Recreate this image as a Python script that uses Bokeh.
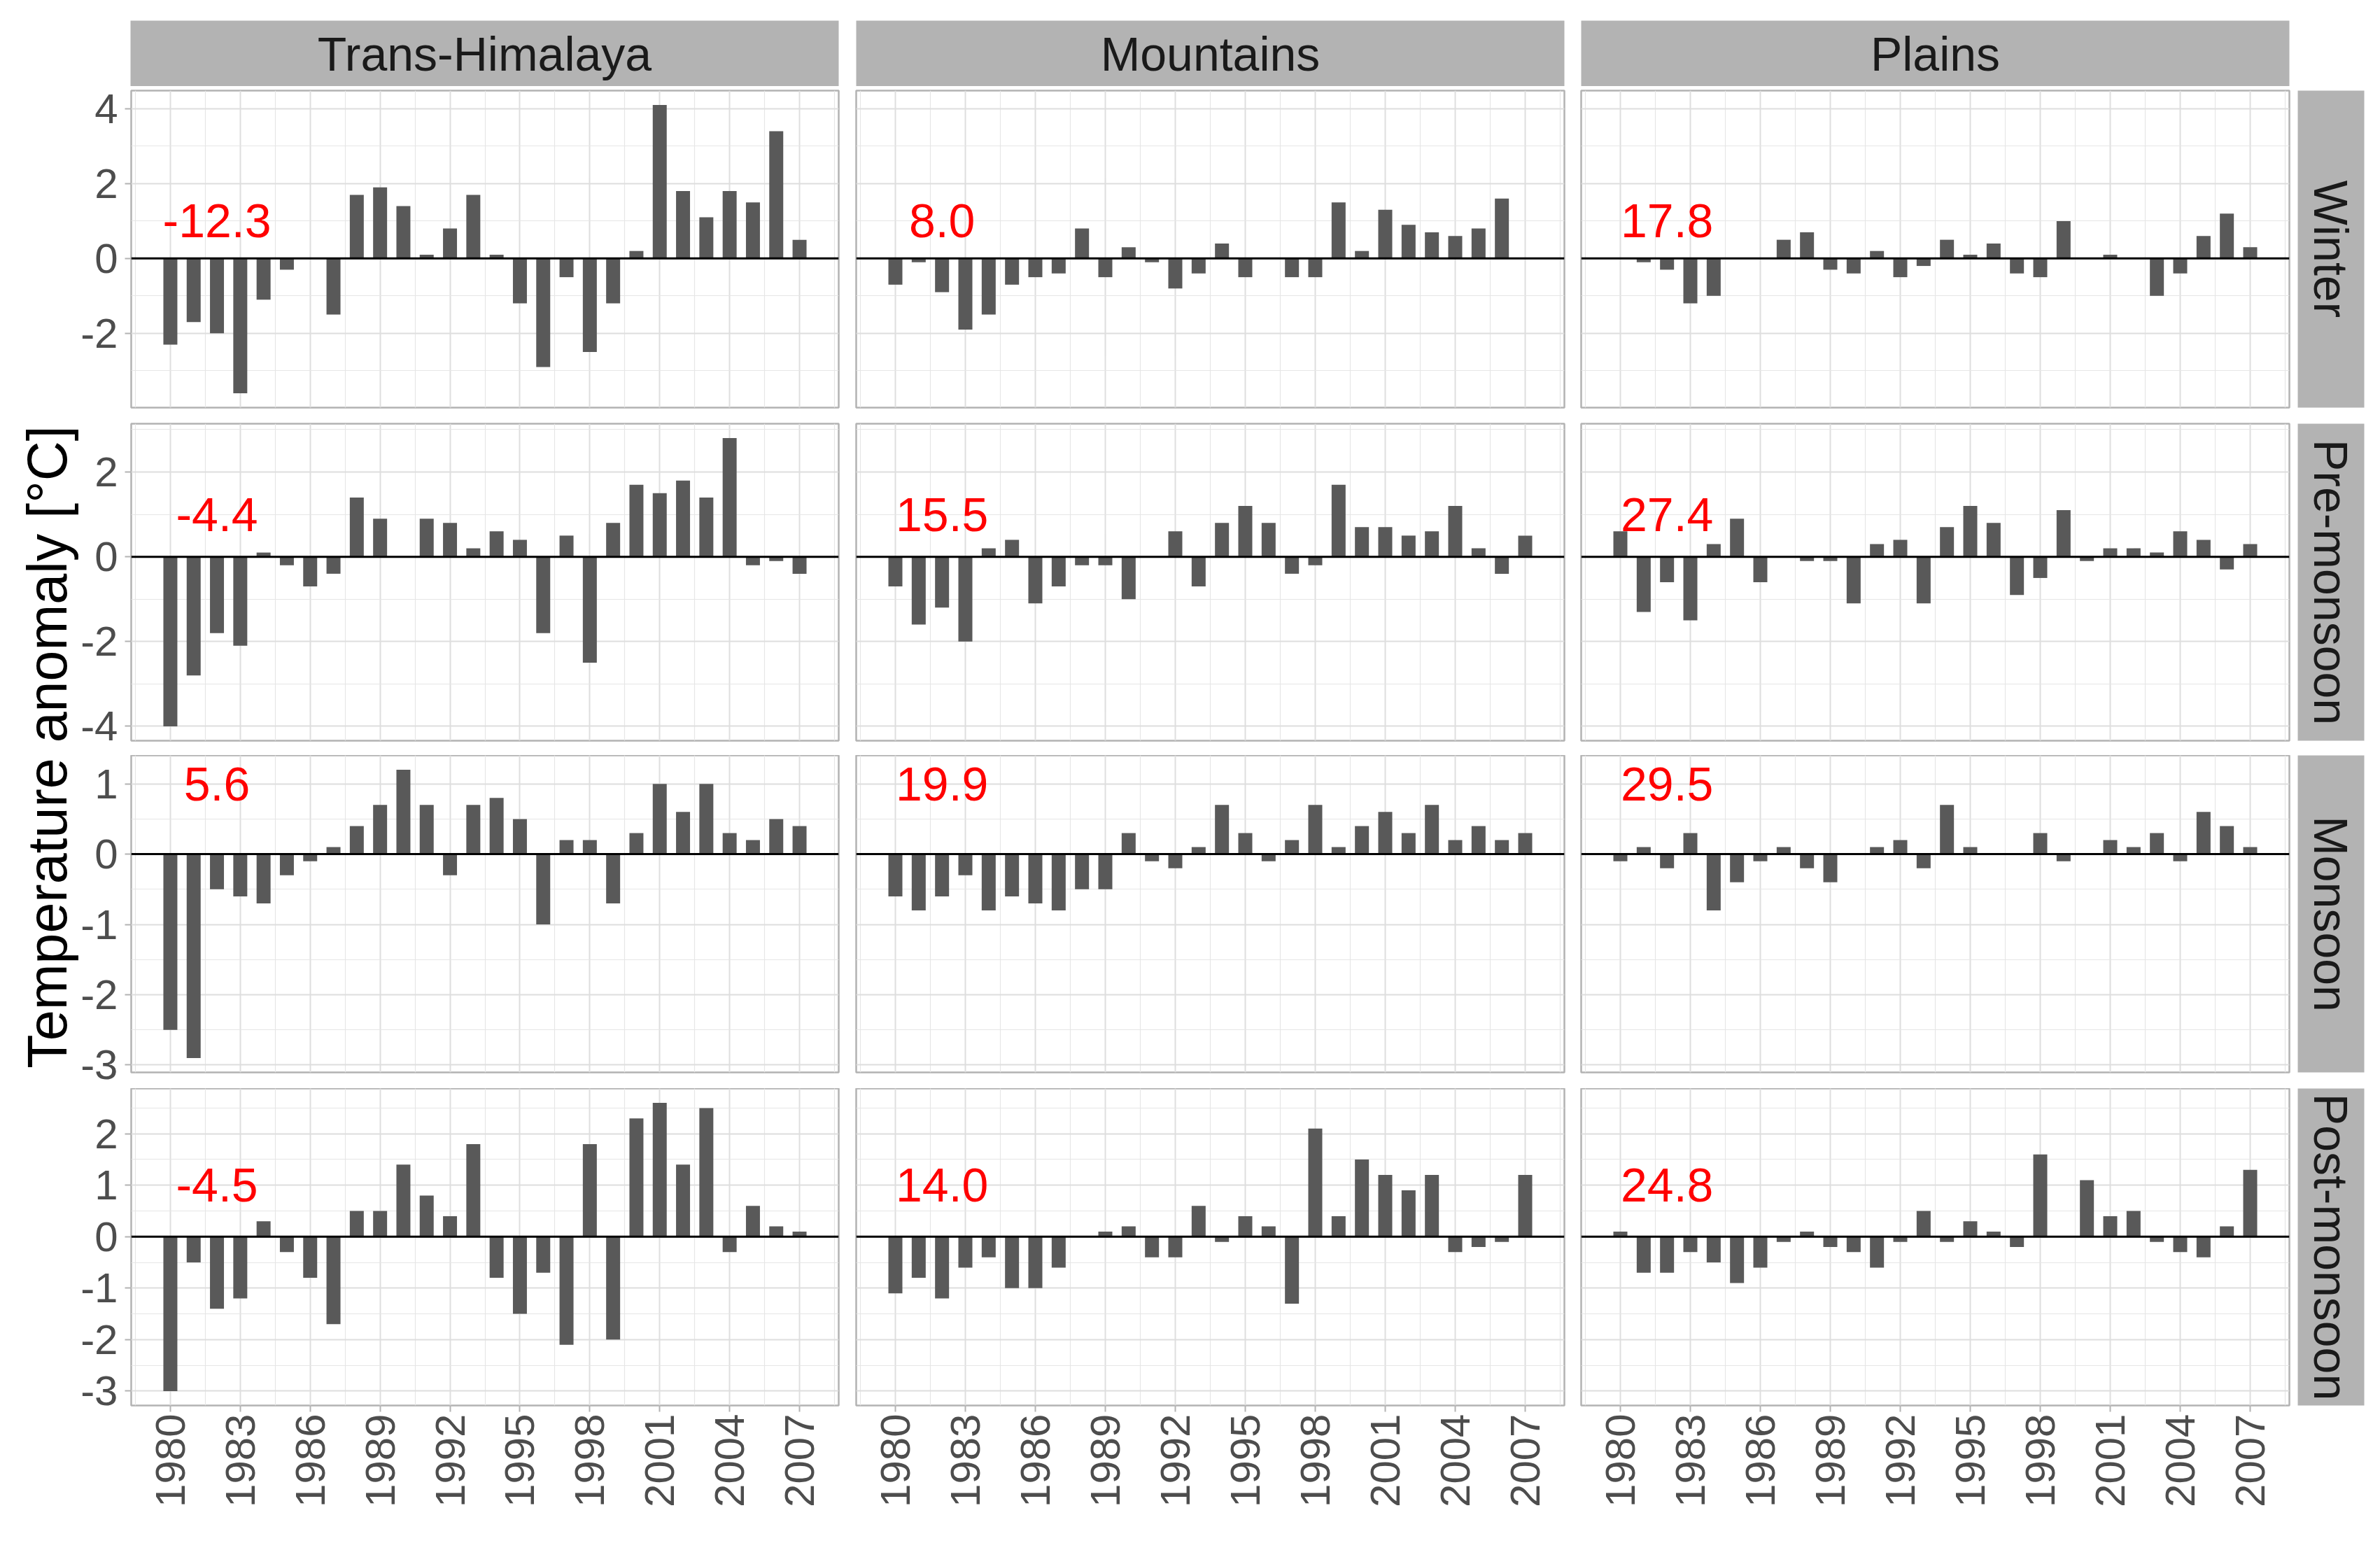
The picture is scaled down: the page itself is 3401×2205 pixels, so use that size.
import math
from bokeh.plotting import figure
from bokeh.layouts import row, column
from bokeh.models import Range1d, FixedTicker, LinearAxis, Grid, Span, Label, PrintfTickFormatter
from bokeh.embed import file_html
from bokeh.resources import INLINE

# ---------------- data ----------------
regions = ["Trans-Himalaya", "Mountains", "Plains"]
seasons = ["Winter", "Pre-monsoon", "Monsoon", "Post-monsoon"]
years = [1980, 1981, 1982, 1983, 1984, 1985, 1986, 1987, 1988, 1989,
         1990, 1991, 1992, 1993, 1994, 1995, 1996, 1997, 1998, 1999,
         2000, 2001, 2002, 2003, 2004, 2005, 2006, 2007]

th_winter = [-2.3, -1.7, -2.0, -3.6, -1.1, -0.3, 0.0, -1.5, 1.7, 1.9, 1.4, 0.1, 0.8, 1.7,
             0.1, -1.2, -2.9, -0.5, -2.5, -1.2, 0.2, 4.1, 1.8, 1.1, 1.8, 1.5, 3.4, 0.5]
mo_winter = [-0.7, -0.1, -0.9, -1.9, -1.5, -0.7, -0.5, -0.4, 0.8, -0.5, 0.3, -0.1, -0.8, -0.4,
             0.4, -0.5, 0.0, -0.5, -0.5, 1.5, 0.2, 1.3, 0.9, 0.7, 0.6, 0.8, 1.6, 0.0]
pl_winter = [0.0, -0.1, -0.3, -1.2, -1.0, 0.0, 0.0, 0.5, 0.7, -0.3, -0.4, 0.2, -0.5, -0.2,
             0.5, 0.1, 0.4, -0.4, -0.5, 1.0, 0.0, 0.1, 0.0, -1.0, -0.4, 0.6, 1.2, 0.3]

th_pre = [-4.0, -2.8, -1.8, -2.1, 0.1, -0.2, -0.7, -0.4, 1.4, 0.9, 0.0, 0.9, 0.8, 0.2,
          0.6, 0.4, -1.8, 0.5, -2.5, 0.8, 1.7, 1.5, 1.8, 1.4, 2.8, -0.2, -0.1, -0.4]
mo_pre = [-0.7, -1.6, -1.2, -2.0, 0.2, 0.4, -1.1, -0.7, -0.2, -0.2, -1.0, 0.0, 0.6, -0.7,
          0.8, 1.2, 0.8, -0.4, -0.2, 1.7, 0.7, 0.7, 0.5, 0.6, 1.2, 0.2, -0.4, 0.5]
pl_pre = [0.6, -1.3, -0.6, -1.5, 0.3, 0.9, -0.6, 0.0, -0.1, -0.1, -1.1, 0.3, 0.4, -1.1,
          0.7, 1.2, 0.8, -0.9, -0.5, 1.1, -0.1, 0.2, 0.2, 0.1, 0.6, 0.4, -0.3, 0.3]

th_mon = [-2.5, -2.9, -0.5, -0.6, -0.7, -0.3, -0.1, 0.1, 0.4, 0.7, 1.2, 0.7, -0.3, 0.7,
          0.8, 0.5, -1.0, 0.2, 0.2, -0.7, 0.3, 1.0, 0.6, 1.0, 0.3, 0.2, 0.5, 0.4]
mo_mon = [-0.6, -0.8, -0.6, -0.3, -0.8, -0.6, -0.7, -0.8, -0.5, -0.5, 0.3, -0.1, -0.2, 0.1,
          0.7, 0.3, -0.1, 0.2, 0.7, 0.1, 0.4, 0.6, 0.3, 0.7, 0.2, 0.4, 0.2, 0.3]
pl_mon = [-0.1, 0.1, -0.2, 0.3, -0.8, -0.4, -0.1, 0.1, -0.2, -0.4, 0.0, 0.1, 0.2, -0.2,
          0.7, 0.1, 0.0, 0.0, 0.3, -0.1, 0.0, 0.2, 0.1, 0.3, -0.1, 0.6, 0.4, 0.1]

th_post = [-3.0, -0.5, -1.4, -1.2, 0.3, -0.3, -0.8, -1.7, 0.5, 0.5, 1.4, 0.8, 0.4, 1.8,
           -0.8, -1.5, -0.7, -2.1, 1.8, -2.0, 2.3, 2.6, 1.4, 2.5, -0.3, 0.6, 0.2, 0.1]
mo_post = [-1.1, -0.8, -1.2, -0.6, -0.4, -1.0, -1.0, -0.6, 0.0, 0.1, 0.2, -0.4, -0.4, 0.6,
           -0.1, 0.4, 0.2, -1.3, 2.1, 0.4, 1.5, 1.2, 0.9, 1.2, -0.3, -0.2, -0.1, 1.2]
pl_post = [0.1, -0.7, -0.7, -0.3, -0.5, -0.9, -0.6, -0.1, 0.1, -0.2, -0.3, -0.6, -0.1, 0.5,
           -0.1, 0.3, 0.1, -0.2, 1.6, 0.0, 1.1, 0.4, 0.5, -0.1, -0.3, -0.4, 0.2, 1.3]

# seasonal mean temperatures (red labels), rows = seasons, cols = regions
mean_winter = ["-12.3", "8.0", "17.8"]
mean_pre = ["-4.4", "15.5", "27.4"]
mean_mon = ["5.6", "19.9", "29.5"]
mean_post = ["-4.5", "14.0", "24.8"]

x_ticks = [1980, 1983, 1986, 1989, 1992, 1995, 1998, 2001, 2004, 2007]
x_minor = [1978.5, 1981.5, 1984.5, 1987.5, 1990.5, 1993.5, 1996.5, 1999.5, 2002.5, 2005.5, 2008.5]
y_ticks_rows = [[-2, 0, 2, 4], [-4, -2, 0, 2], [-3, -2, -1, 0, 1], [-3, -2, -1, 0, 1, 2]]
y_minor_rows = [[-3, -1, 1, 3], [-3, -1, 1, 3], [-2.5, -1.5, -0.5, 0.5], [-2.5, -1.5, -0.5, 0.5, 1.5, 2.5]]

series = [[th_winter, mo_winter, pl_winter],
          [th_pre, mo_pre, pl_pre],
          [th_mon, mo_mon, pl_mon],
          [th_post, mo_post, pl_post]]
means = [mean_winter, mean_pre, mean_mon, mean_post]

# ---------------- styling / layout ----------------
FONT = "Liberation Sans"
BAR_W = 0.6
FRAME_W = 1012
FRAME_H = 453
LAB_W = 112
ML = [74, 13, 12]
MR = [12, 12, 5]
MT = [6, 2, 0, 0]
MB = [21, 21, 23, 175]
STRIP_TOP = 29
STRIP_H = 94
STRIP_COL = "#b3b3b3"
GRID_COL = "#dedede"
TICK_FS = "60px"

x0 = min(years) - BAR_W / 2
x1 = max(years) + BAR_W / 2
xpad = 0.05 * (x1 - x0)
x_start, x_end = x0 - xpad, x1 + xpad


def row_range(r):
    vals = [v for s in series[r] for v in s]
    lo, hi = min(vals), max(vals)
    pad = 0.05 * (hi - lo)
    return lo - pad, hi + pad


def base_fig(w, h, **kw):
    p = figure(width=w, height=h, x_axis_type=None, y_axis_type=None,
               toolbar_location=None, output_backend="svg", **kw)
    p.border_fill_color = "white"
    return p


def style_axis(ax):
    ax.axis_line_color = None
    ax.major_tick_line_color = STRIP_COL
    ax.major_tick_line_width = 2
    ax.major_tick_out = 9
    ax.major_tick_in = 0
    ax.minor_tick_line_color = None
    ax.major_label_text_font = FONT
    ax.major_label_text_font_size = TICK_FS
    ax.major_label_text_color = "#4d4d4d"


def panel(r, c):
    y0, y1 = row_range(r)
    w = ML[c] + FRAME_W + MR[c]
    h = MT[r] + FRAME_H + MB[r]
    p = base_fig(w, h, x_range=Range1d(x_start, x_end), y_range=Range1d(y0, y1),
                 min_border_left=ML[c], min_border_right=MR[c],
                 min_border_top=MT[r], min_border_bottom=MB[r])
    p.background_fill_color = "white"
    p.outline_line_color = STRIP_COL
    p.outline_line_width = 2.5

    xt = FixedTicker(ticks=x_ticks, minor_ticks=x_minor)
    yt = FixedTicker(ticks=y_ticks_rows[r], minor_ticks=y_minor_rows[r])
    for dim, tk in ((0, xt), (1, yt)):
        p.add_layout(Grid(dimension=dim, ticker=tk, grid_line_color=GRID_COL, grid_line_width=2,
                          minor_grid_line_color="#e6e6e6", minor_grid_line_width=1.2))

    if c == 0:
        ax = LinearAxis(ticker=yt, formatter=PrintfTickFormatter(format="%d"))
        style_axis(ax)
        ax.major_label_standoff = 10
        p.add_layout(ax, "left")
    if r == 3:
        ax = LinearAxis(ticker=xt, formatter=PrintfTickFormatter(format="%d"))
        style_axis(ax)
        ax.major_label_orientation = math.pi / 2
        ax.major_label_standoff = 3
        p.add_layout(ax, "below")

    p.vbar(x=years, top=series[r][c], bottom=0, width=BAR_W,
           fill_color="#595959", line_color=None)
    p.add_layout(Span(location=0, dimension="width", line_color="black", line_width=3))
    p.add_layout(Label(x=1982, y=1, text=means[r][c], text_color="red",
                       text_font=FONT, text_font_size="68px",
                       text_align="center", text_baseline="middle"))
    return p


def top_strip(c):
    w = ML[c] + FRAME_W + MR[c]
    p = base_fig(w, STRIP_TOP + STRIP_H, x_range=Range1d(0, 1), y_range=Range1d(0, 1),
                 min_border_left=ML[c], min_border_right=MR[c],
                 min_border_top=STRIP_TOP, min_border_bottom=0)
    p.background_fill_color = STRIP_COL
    p.outline_line_color = None
    p.add_layout(Label(x=0.5, y=0.5, text=regions[c], text_color="#1a1a1a",
                       text_font=FONT, text_font_size="68px",
                       text_align="center", text_baseline="middle"))
    return p


def right_strip(r):
    h = MT[r] + FRAME_H + MB[r]
    p = base_fig(104, h, x_range=Range1d(0, 1), y_range=Range1d(0, 1),
                 min_border_left=7, min_border_right=2,
                 min_border_top=MT[r], min_border_bottom=MB[r])
    p.background_fill_color = STRIP_COL
    p.outline_line_color = None
    p.add_layout(Label(x=0.5, y=0.5, text=seasons[r], text_color="#1a1a1a",
                       text_font=FONT, text_font_size="68px", angle=-math.pi / 2,
                       text_align="center", text_baseline="middle"))
    return p


rows = [row(top_strip(0), top_strip(1), top_strip(2))]
for r in range(4):
    rows.append(row(panel(r, 0), panel(r, 1), panel(r, 2), right_strip(r)))
grid = column(*rows)

TOTAL_H = STRIP_TOP + STRIP_H + sum(MT[r] + FRAME_H + MB[r] for r in range(4))
lab = base_fig(LAB_W, TOTAL_H, x_range=Range1d(0, LAB_W), y_range=Range1d(0, TOTAL_H),
               min_border_left=0, min_border_right=0, min_border_top=0, min_border_bottom=0)
lab.outline_line_color = None
lab.background_fill_color = "white"
lab.add_layout(Label(x=67, y=TOTAL_H - 1067, text="Temperature anomaly [°C]",
                     text_color="black", text_font=FONT, text_font_size="79px",
                     angle=math.pi / 2, text_align="center", text_baseline="middle"))

layout = row(lab, grid)
open("out.html", "w").write(file_html(layout, INLINE))
